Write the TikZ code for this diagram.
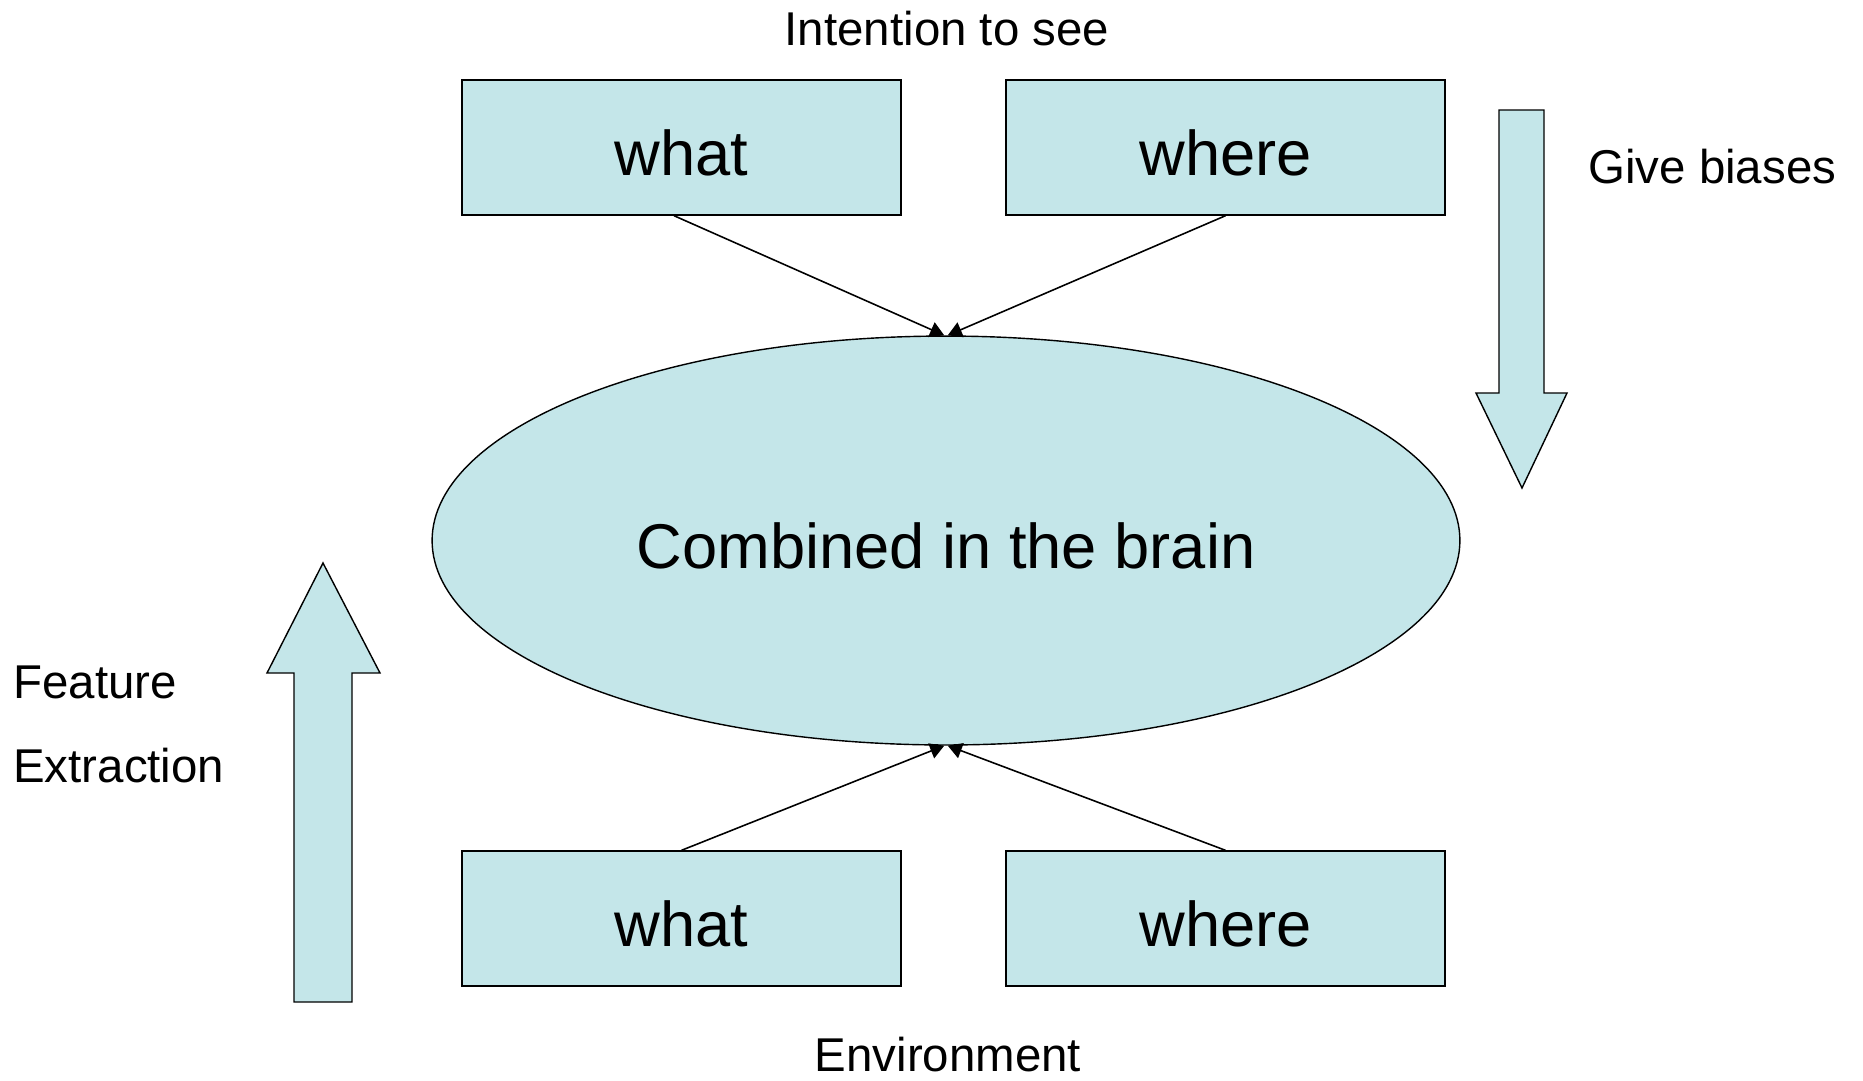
\documentclass[tikz,border=0pt]{standalone}
\usepackage{fontspec}
\setmainfont{Liberation Sans}
\usetikzlibrary{shapes.geometric,arrows.meta}
\definecolor{boxfill}{RGB}{196,230,233}
\begin{document}
\begin{tikzpicture}[x=0.02cm,y=-0.02cm,%
box/.style={rectangle, draw, fill=boxfill, line width=0.8pt,
minimum width=8.78cm, minimum height=2.7cm, inner sep=0pt,
font=\fontsize{36}{43}\selectfont, text height=32pt, text depth=0pt},
label/.style={inner sep=0pt, font=\fontsize{27}{32}\selectfont},
link/.style={-{Triangle[length=8pt,width=9pt]}, line width=0.9pt},
bigarrow/.style={draw, fill=boxfill, line width=0.8pt}]
\useasboundingbox (0,0) rectangle (1863,1080);
\node (whatTop) at (681.5,147.5) [box] {what};
\node (whereTop) at (1225.5,147.5) [box] {where};
\node (brain) at (946,540.5) [box, ellipse, minimum width=20.56cm,
minimum height=8.18cm] {Combined in the brain};
\node (whatBot) at (681.5,918.5) [box] {what};
\node (whereBot) at (1225.5,918.5) [box] {where};
\node (intention) at (947,45) [label, anchor=base] {Intention to see};
\node (biases) at (1588,183) [label, anchor=base west] {Give biases};
\node (feature) at (13,698) [label, anchor=base west] {Feature};
\node (extraction) at (13,782) [label, anchor=base west] {Extraction};
\node (environ) at (948,1071) [label, anchor=base] {Environment};
% block arrows beside the ellipse
\draw[bigarrow] (1499,110) -- (1544,110) -- (1544,393) -- (1567,393)
-- (1522,488) -- (1476,393) -- (1499,393) -- cycle;
\draw[bigarrow] (294,1002) -- (352,1002) -- (352,673) -- (380,673)
-- (323,563) -- (267,673) -- (294,673) -- cycle;
\draw[link] ([xshift=-0.15cm]whatTop.south) -- ([xshift=-1pt]brain.north);
\draw[link] (whereTop.south) -- ([xshift=1pt]brain.north);
\draw[link] (whatBot.north) -- ([xshift=-1pt]brain.south);
\draw[link] (whereBot.north) -- ([xshift=1pt]brain.south);
\end{tikzpicture}
\end{document}
